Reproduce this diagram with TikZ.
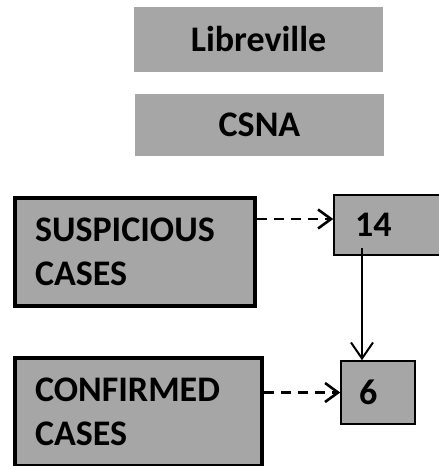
\documentclass[tikz,border=0pt]{standalone}
\usepackage{fontspec}
\setmainfont{Carlito}
\usetikzlibrary{arrows.meta,positioning}

\begin{document}
\begin{tikzpicture}[x=1pt,y=-1pt]
	\tikzstyle{txt}=[font=\fontsize{36}{44}\selectfont\bfseries]
	\tikzstyle{site}=[txt,fill=black!35,minimum width=249pt,minimum height=65pt,inner sep=0pt]
	\tikzstyle{casebox}=[txt,draw,line width=4pt,fill=black!35,align=left,inner xsep=20pt,inner ysep=2pt,minimum height=108pt]
	\tikzstyle{countbox}=[txt,draw,line width=1.5pt,fill=black!35,align=left,inner ysep=2pt]
	\tikzstyle{link}=[line width=2.6pt,dash pattern=on 10pt off 7pt,-{Straight Barb[length=13pt,width=19pt]}]
	\tikzstyle{flow}=[line width=2pt,-{Straight Barb[length=16pt,width=22pt]}]

	\useasboundingbox (0,0) rectangle (439,466);
	\clip (0,0) rectangle (439,466);

	% place and centre
	\node[site] (city) at (258.5,39.5) {Libreville};
	\node[site,minimum height=62pt] (centre) at (259.5,125) {CSNA};

	% cases
	\node[casebox,text width=200pt] (susp) at (135,252) {SUSPICIOUS\\CASES};
	\node[casebox,text width=207pt] (conf) at (138.5,412) {CONFIRMED\\CASES};

	% counts
	\node[countbox,text width=68pt,inner xsep=21pt,minimum height=60pt] (num14) at (389,225) {14};
	\node[countbox,text width=38pt,inner xsep=18pt,minimum height=63pt] (num6) at (378,392.5) {6};

	\coordinate (in14) at ([yshift=6pt]num14.west);
	\draw[link] (in14 -| susp.east) -- (in14);
	\draw[link] (conf.east |- num6.west) -- (num6.west);

	\coordinate (drop) at (362,248);
	\draw[flow] (drop) -- (drop |- num6.north);
\end{tikzpicture}
\end{document}
